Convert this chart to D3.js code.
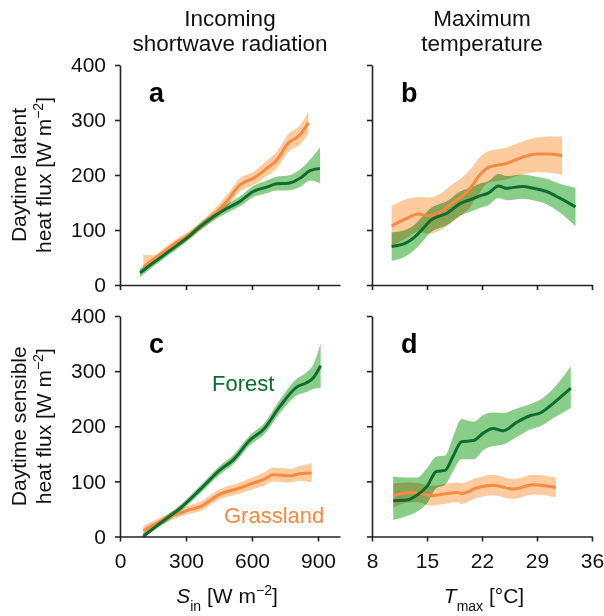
<!DOCTYPE html>
<html>
<head>
<meta charset="utf-8">
<script src="https://cdn.jsdelivr.net/npm/d3@7/dist/d3.min.js"></script>
<style>
  html, body { margin: 0; padding: 0; background: #fff; }
  svg { display: block; font-family: "Liberation Sans", Arial, sans-serif; }
</style>
</head>
<body>
<svg id="chart" width="604" height="616"></svg>
<script>
// ---------------- DATA ----------------
// Panel a: latent heat flux vs S_in
const aForestX  = [91, 150, 212, 260, 303, 364, 424, 485, 545, 606, 667, 712, 765, 818, 864, 909];
const aForestY  = [22, 40, 58, 72, 85, 106, 124, 139, 152, 170, 178, 184, 185, 194, 208, 212];
const aForestLo = [14, 33, 52, 66, 79, 100, 117, 131, 143, 160, 167, 172, 172, 178, 190, 185];
const aForestHi = [30, 47, 64, 78, 91, 112, 131, 147, 161, 180, 190, 197, 199, 210, 228, 250];

const aGrassX  = [106, 150, 212, 260, 303, 364, 424, 485, 545, 606, 667, 712, 765, 818, 856];
const aGrassY  = [33, 46, 64, 78, 88, 106, 127, 152, 182, 194, 212, 227, 258, 273, 295];
const aGrassLo = [25, 38, 57, 71, 81, 98, 118, 141, 170, 182, 198, 212, 242, 256, 275];
const aGrassHi = [55, 54, 71, 85, 95, 114, 136, 163, 194, 206, 226, 242, 274, 290, 315];

// Panel b: latent heat flux vs T_max
const bForestX  = [10.5, 12.4, 13.5, 14.5, 15.5, 16.5, 17.5, 19.2, 20.5, 21.7, 22.8, 24.1, 25.1, 27.1, 28.5, 30.2, 31.9, 33.9];
const bForestY  = [70, 77, 88, 103, 118, 125, 130, 148, 155, 162, 167, 180, 176, 179, 176, 170, 158, 142];
const bForestLo = [44, 53, 65, 80, 96, 103, 108, 126, 133, 140, 145, 158, 154, 157, 154, 147, 132, 107];
const bForestHi = [96, 101, 111, 126, 140, 147, 152, 170, 177, 184, 189, 202, 198, 201, 198, 193, 184, 177];

const bGrassX  = [10.5, 12.4, 13.9, 15.2, 16.7, 18.3, 19.5, 20.5, 21.7, 22.8, 25.1, 27.3, 29.0, 30.7, 32.2];
const bGrassY  = [107, 121, 129, 126, 133, 150, 162, 176, 200, 214, 221, 233, 238, 238, 235];
const bGrassLo = [70, 86, 97, 93, 100, 116, 128, 142, 168, 186, 192, 202, 205, 204, 200];
const bGrassHi = [144, 156, 160, 159, 166, 184, 196, 210, 232, 243, 250, 262, 268, 270, 270];

// Panel c: sensible heat flux vs S_in
const cForestX  = [106, 182, 273, 364, 455, 515, 591, 652, 727, 803, 848, 879, 912];
const cForestY  = [0, 24, 51, 85, 121, 139, 175, 194, 236, 271, 279, 288, 310];
const cForestLo = [0, 18, 45, 78, 113, 131, 166, 184, 224, 256, 262, 268, 270];
const cForestHi = [6, 30, 57, 92, 129, 148, 184, 204, 248, 286, 298, 312, 350];

const cGrassX  = [106, 212, 303, 364, 455, 545, 606, 652, 697, 773, 818, 871];
const cGrassY  = [11, 33, 47, 54, 77, 88, 97, 103, 112, 110, 114, 115];
const cGrassLo = [3, 26, 40, 46, 68, 78, 86, 92, 100, 98, 101, 98];
const cGrassHi = [19, 40, 55, 63, 86, 98, 108, 115, 125, 123, 128, 133];

// Panel d: sensible heat flux vs T_max
const dForestX  = [10.7, 12.4, 13.7, 15.0, 16.2, 17.3, 18.3, 19.4, 20.9, 22.2, 23.4, 24.7, 26.4, 28.1, 29.4, 31.1, 33.3];
const dForestY  = [65, 66, 75, 91, 118, 120, 145, 172, 174, 188, 196, 192, 207, 219, 224, 242, 269];
const dForestLo = [30, 37, 45, 60, 88, 94, 118, 140, 140, 157, 164, 167, 180, 194, 200, 215, 233];
const dForestHi = [109, 107, 107, 124, 145, 147, 180, 213, 208, 221, 225, 224, 232, 240, 248, 269, 309];

const dGrassX  = [10.7, 12.8, 13.9, 15.4, 17.1, 18.8, 19.4, 21.3, 23.4, 26.0, 28.5, 31.4];
const dGrassY  = [74, 80, 79, 74, 77, 80, 78, 88, 93, 86, 94, 89];
const dGrassLo = [52, 62, 62, 56, 59, 62, 59, 70, 75, 68, 76, 71];
const dGrassHi = [96, 98, 97, 92, 95, 98, 97, 106, 112, 104, 112, 107];

// Ticks / labels
const sinTicks  = [0, 300, 600, 900];
const tmaxTicks = [8, 15, 22, 29, 36];
const fluxTicks = [0, 100, 200, 300, 400];
const panelLetters = ["a", "b", "c", "d"];
const colTitles = [["Incoming", "shortwave radiation"], ["Maximum", "temperature"]];
const rowTitles = [["Daytime latent", "heat flux [W m"], ["Daytime sensible", "heat flux [W m"]];

// ---------------- STYLE ----------------
const C = {
  forestLine: "#0f6c2f", forestBand: "#88ce88",
  grassLine: "#f68a42", grassBand: "#fdcb9d",
  axis: "#222"
};
const FONT = 21;

const svg = d3.select("#chart");

const cols = [{x0: 120, x1: 340, domain: [0, 1000], ticks: sinTicks},
              {x0: 372, x1: 592, domain: [8, 36], ticks: tmaxTicks}];
const rows = [{y0: 65, y1: 285}, {y0: 316, y1: 536.5}];

function zip(x, y, lo, hi) { return x.map((v, i) => ({x: v, y: y[i], lo: lo[i], hi: hi[i]})); }

const panels = [
  {r: 0, c: 0, forest: zip(aForestX, aForestY, aForestLo, aForestHi), grass: zip(aGrassX, aGrassY, aGrassLo, aGrassHi)},
  {r: 0, c: 1, forest: zip(bForestX, bForestY, bForestLo, bForestHi), grass: zip(bGrassX, bGrassY, bGrassLo, bGrassHi)},
  {r: 1, c: 0, forest: zip(cForestX, cForestY, cForestLo, cForestHi), grass: zip(cGrassX, cGrassY, cGrassLo, cGrassHi)},
  {r: 1, c: 1, forest: zip(dForestX, dForestY, dForestLo, dForestHi), grass: zip(dGrassX, dGrassY, dGrassLo, dGrassHi)}
];

panels.forEach((p, i) => {
  const col = cols[p.c], row = rows[p.r];
  const x = d3.scaleLinear().domain(col.domain).range([col.x0, col.x1]);
  const y = d3.scaleLinear().domain([0, 400]).range([row.y1, row.y0]);
  const g = svg.append("g");

  const area = d3.area().x(d => x(d.x)).y0(d => y(d.lo)).y1(d => y(d.hi)).curve(d3.curveMonotoneX);
  const line = d3.line().x(d => x(d.x)).y(d => y(d.y)).curve(d3.curveMonotoneX);

  g.append("path").datum(p.grass).attr("d", area).attr("fill", C.grassBand);
  g.append("path").datum(p.forest).attr("d", area).attr("fill", C.forestBand)
    .style("mix-blend-mode", "multiply");
  g.append("path").datum(p.grass).attr("d", line).attr("fill", "none")
    .attr("stroke", C.grassLine).attr("stroke-width", 3).attr("stroke-linejoin", "round");
  g.append("path").datum(p.forest).attr("d", line).attr("fill", "none")
    .attr("stroke", C.forestLine).attr("stroke-width", 3).attr("stroke-linejoin", "round");

  // axes
  const yAxis = d3.axisLeft(y).tickValues(fluxTicks).tickSize(5).tickPadding(9).tickSizeOuter(0);
  if (p.c === 1) yAxis.tickFormat("");
  const ya = g.append("g").attr("transform", `translate(${col.x0},0)`).call(yAxis);

  const xAxis = d3.axisBottom(x).tickValues(col.ticks).tickSize(5).tickPadding(12).tickSizeOuter(0);
  if (p.r === 0) xAxis.tickFormat("");
  const xa = g.append("g").attr("transform", `translate(0,${row.y1})`).call(xAxis);

  [ya, xa].forEach(a => {
    a.select(".domain").attr("stroke", C.axis).attr("stroke-width", 1.6);
    a.selectAll(".tick line").attr("stroke", C.axis).attr("stroke-width", 1.6);
    a.selectAll(".tick text").attr("font-size", FONT).attr("fill", "#111")
      .attr("font-family", "'Liberation Sans', Arial, sans-serif");
  });

  // panel letter
  g.append("text").attr("x", col.x0 + 29).attr("y", row.y0 + 37)
    .attr("font-size", 27).attr("font-weight", "bold").attr("fill", "#000")
    .text(panelLetters[i]);
});

// Column titles
colTitles.forEach((t, c) => {
  const cx = (cols[c].x0 + cols[c].x1) / 2;
  svg.append("text").attr("x", cx).attr("y", 26).attr("text-anchor", "middle")
    .attr("font-size", 22.5).attr("fill", "#111").text(t[0]);
  svg.append("text").attr("x", cx).attr("y", 51).attr("text-anchor", "middle")
    .attr("font-size", 22.5).attr("fill", "#111").text(t[1]);
});

// Row titles (rotated)
rowTitles.forEach((t, r) => {
  const cy = (rows[r].y0 + rows[r].y1) / 2;
  svg.append("text").attr("transform", `translate(26,${cy}) rotate(-90)`)
    .attr("text-anchor", "middle").attr("font-size", FONT).attr("fill", "#111").text(t[0]);
  const t2 = svg.append("text").attr("transform", `translate(51,${cy}) rotate(-90)`)
    .attr("text-anchor", "middle").attr("font-size", FONT).attr("fill", "#111");
  t2.append("tspan").text(t[1]);
  t2.append("tspan").attr("font-size", 14).attr("dy", -8).text("\u22122");
  t2.append("tspan").attr("dy", 8).text("]");
});

// X axis titles
const xt1 = svg.append("text").attr("x", 227).attr("y", 603).attr("text-anchor", "middle")
  .attr("font-size", FONT).attr("fill", "#111");
xt1.append("tspan").attr("font-style", "italic").text("S");
xt1.append("tspan").attr("font-size", 14).attr("dy", 8).text("in");
xt1.append("tspan").attr("dy", -8).text(" [W m");
xt1.append("tspan").attr("font-size", 14).attr("dy", -8).text("\u22122");
xt1.append("tspan").attr("dy", 8).text("]");

const xt2 = svg.append("text").attr("x", 484).attr("y", 603).attr("text-anchor", "middle")
  .attr("font-size", FONT).attr("fill", "#111");
xt2.append("tspan").attr("font-style", "italic").text("T");
xt2.append("tspan").attr("font-size", 14).attr("dy", 8).text("max");
xt2.append("tspan").attr("dy", -8).text(" [\u00B0C]");

// Series labels in panel c
svg.append("text").attr("x", 212).attr("y", 391).attr("font-size", 22)
  .attr("fill", C.forestLine).text("Forest");
svg.append("text").attr("x", 224).attr("y", 522.5).attr("font-size", 22)
  .attr("fill", C.grassLine).text("Grassland");
</script>
</body>
</html>
